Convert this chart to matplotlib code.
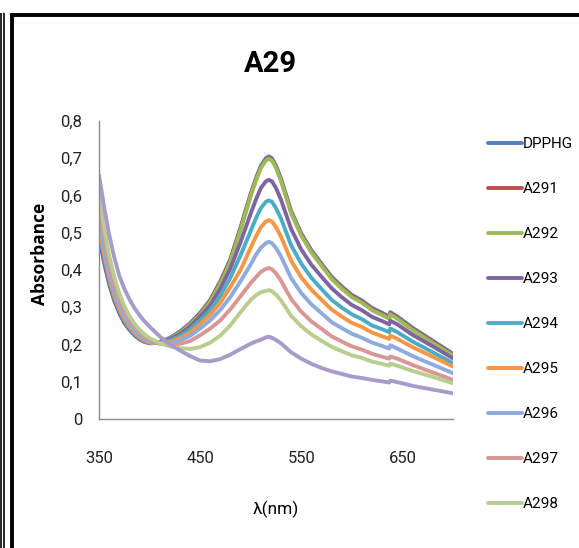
import matplotlib
matplotlib.use("Agg")
import matplotlib.pyplot as plt
from matplotlib.lines import Line2D
from matplotlib.ticker import FuncFormatter

# wavelength grid (nm)
wavelength = [350, 355, 360, 365, 370, 375, 380, 385, 390, 395, 400,
              410, 420, 430, 440, 450, 460, 470, 480, 490,
              500, 505, 510, 515, 518, 521, 525, 530,
              540, 550, 560, 570, 580, 590, 600, 610, 620, 630,
              637, 638, 645, 660, 680, 700]

dpphg = [.500, .430, .370, .325, .290, .262, .243, .228, .217, .209, .205,
         .207, .218, .235, .257, .285, .320, .370, .430, .515,
         .605, .645, .680, .700, .705, .700, .680, .645,
         .558, .498, .453, .417, .382, .356, .333, .318, .298, .285,
         .275, .287, .275, .245, .210, .175]
a291 = [.490, .425, .367, .322, .287, .260, .241, .226, .215, .208, .204,
        .206, .216, .233, .255, .283, .318, .367, .427, .512,
        .602, .642, .677, .697, .702, .697, .677, .642,
        .555, .495, .450, .414, .379, .353, .330, .315, .295, .282,
        .272, .284, .272, .242, .207, .172]
a292 = [.520, .440, .378, .330, .294, .266, .246, .230, .219, .210, .205,
        .206, .216, .232, .253, .280, .315, .363, .423, .508,
        .599, .639, .674, .694, .699, .694, .674, .639,
        .552, .492, .447, .411, .376, .350, .327, .312, .292, .279,
        .269, .281, .269, .239, .204, .170]
a293 = [.490, .420, .362, .318, .285, .258, .240, .225, .214, .207, .203,
        .205, .214, .228, .248, .275, .305, .350, .405, .475,
        .552, .588, .620, .638, .642, .638, .620, .588,
        .510, .455, .414, .382, .351, .327, .306, .292, .274, .263,
        .254, .264, .254, .226, .195, .163]
a294 = [.510, .435, .373, .327, .292, .264, .244, .228, .217, .209, .204,
        .204, .210, .223, .241, .265, .292, .330, .380, .440,
        .505, .538, .566, .583, .587, .583, .566, .538,
        .466, .417, .379, .349, .320, .299, .281, .268, .251, .241,
        .233, .243, .233, .208, .179, .150]
a295 = [.520, .445, .382, .334, .298, .270, .249, .232, .220, .211, .205,
        .203, .207, .217, .232, .255, .280, .312, .355, .400,
        .460, .489, .515, .530, .534, .530, .515, .489,
        .425, .380, .347, .320, .294, .275, .258, .247, .232, .222,
        .215, .224, .215, .193, .167, .141]
a296 = [.540, .460, .395, .345, .307, .278, .256, .238, .225, .215, .208,
        .203, .204, .211, .223, .243, .265, .293, .328, .370,
        .415, .440, .460, .472, .476, .472, .459, .436,
        .378, .338, .308, .284, .260, .244, .229, .218, .205, .196,
        .189, .198, .189, .169, .146, .123]
a297 = [.570, .490, .420, .365, .323, .292, .268, .249, .234, .222, .213,
        .203, .200, .202, .209, .225, .243, .265, .295, .330,
        .365, .380, .395, .403, .405, .402, .391, .371,
        .322, .288, .262, .242, .222, .208, .195, .186, .175, .167,
        .162, .168, .162, .145, .125, .105]
a298 = [.600, .515, .440, .382, .338, .303, .277, .256, .240, .227, .217,
        .204, .195, .190, .188, .193, .205, .224, .252, .287,
        .320, .332, .340, .344, .346, .343, .334, .318,
        .277, .249, .227, .210, .194, .182, .171, .164, .154, .148,
        .143, .149, .143, .129, .113, .096]
a299 = [.655, .570, .495, .435, .385, .350, .322, .298, .279, .262, .248,
        .222, .200, .184, .169, .157, .155, .161, .173, .188,
        .202, .208, .213, .219, .221, .218, .212, .203,
        .179, .162, .148, .137, .128, .121, .114, .110, .105, .101,
        .098, .103, .099, .089, .079, .069]

series = [dpphg, a291, a292, a293, a294, a295, a296, a297, a298, a299]
labels = ["DPPHG", "A291", "A292", "A293", "A294", "A295", "A296", "A297", "A298", "A299"]
colors = ["#4F81BD", "#C0504D", "#9BBB59", "#8064A2", "#4BACC6",
          "#F79646", "#8FAADC", "#D99694", "#B7CE8E", "#A99BC9"]

x_ticks = [350, 450, 550, 650]
y_ticks = [0, 0.1, 0.2, 0.3, 0.4, 0.5, 0.6, 0.7, 0.8]

W, H = 579, 548
narrow = ["Roboto", "DejaVu Sans"]

fig = plt.figure(figsize=(W / 100, H / 100), dpi=100)
ax = fig.add_axes([99 / W, 1 - 419 / H, 354 / W, 298 / H])

for vals, lab, col in zip(series, labels, colors):
    ax.plot(wavelength, vals, color=col, lw=2.8, label=lab, solid_capstyle="round")

ax.set_xlim(350, 700)
ax.set_ylim(0, 0.8)
ax.set_xticks(x_ticks)
ax.set_yticks(y_ticks)
ax.yaxis.set_major_formatter(FuncFormatter(lambda v, p: ("%g" % round(v, 1)).replace(".", ",")))
ax.tick_params(length=0, labelsize=12, colors="#222222")
ax.tick_params(axis="y", pad=12)
ax.tick_params(axis="x", pad=23)
for t in ax.get_xticklabels() + ax.get_yticklabels():
    t.set_family(narrow)
for s in ["top", "right"]:
    ax.spines[s].set_visible(False)
for s in ["left", "bottom"]:
    ax.spines[s].set_color("#8C8C8C")
    ax.spines[s].set_linewidth(1.0)

fig.text(270 / W, 1 - 64 / H, "A29", ha="center", va="center",
         fontsize=21, fontweight="bold", family=narrow)
fig.text(40 / W, 1 - 254 / H, "Absorbance", rotation=90, ha="center", va="center",
         fontsize=12.5, fontweight="bold", family=["Open Sans", "DejaVu Sans"])
fig.text(276 / W, 1 - 509 / H, "λ(nm)", ha="center", va="center",
         fontsize=12.5, family=narrow)

handles, labs = ax.get_legend_handles_labels()
fig.legend(handles[:9], labs[:9], loc="upper left", bbox_to_anchor=(488 / W, 1 - 137 / H),
           frameon=False, prop={"family": narrow, "size": 11}, handlelength=2.2,
           handletextpad=0.05, labelspacing=2.03, borderpad=0, borderaxespad=0)

# frame lines around the chart
def fline(xs, ys, lw):
    fig.add_artist(Line2D([x / W for x in xs], [1 - y / H for y in ys], color="black",
                          lw=lw, transform=fig.transFigure, solid_capstyle="butt"))

fline([0.8, 0.8], [13, H], 1.2)
fline([3.8, 3.8], [13, H], 1.2)
fline([11.5, 11.5], [13.5, H], 2.8)
fline([10, W], [15, 15], 2.8)

fig.savefig("out.png", dpi=100, facecolor="white")
